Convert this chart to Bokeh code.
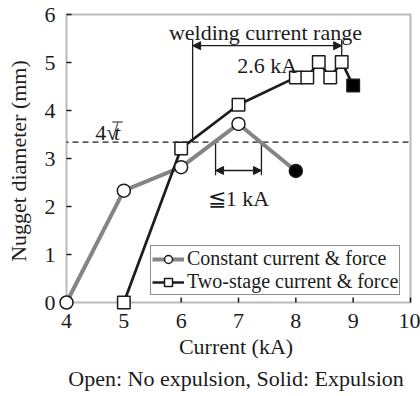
from bokeh.plotting import figure
from bokeh.models import (ColumnDataSource, Range1d, FixedTicker, Label, Arrow,
                          NormalHead, Legend, LegendItem, BoxAnnotation, Title)
from bokeh.embed import file_html
from bokeh.resources import INLINE
import math

# Nugget diameter versus welding current
const_current = [4, 5, 6, 7, 8]
const_diameter = [0.0, 2.33, 2.82, 3.72, 2.74]
const_expulsion = [False, False, False, False, True]

two_stage_current = [5, 6, 7, 8, 8.2, 8.4, 8.6, 8.8, 9]
two_stage_diameter = [0.0, 3.21, 4.12, 4.69, 4.69, 5.01, 4.69, 5.01, 4.52]
two_stage_expulsion = [False, False, False, False, False, False, False, False, True]

x_ticks = [4, 5, 6, 7, 8, 9, 10]
y_ticks = [0, 1, 2, 3, 4, 5, 6]

min_diameter = 3.34          # 4*sqrt(t) criterion
wide_range = [6.2, 8.8]      # two-stage welding current range (2.6 kA)
narrow_range = [6.6, 7.4]    # constant current range (<= 1 kA)

FONT = "Liberation Serif"
INK = "#1c1c1c"
GRAY = "#858585"

# the frame is a little larger than the data box so corner markers stay whole
PX_X = 57.33   # pixels per kA
PX_Y = 48.0    # pixels per mm
x0, x1 = x_ticks[0], x_ticks[-1]
y0, y1 = y_ticks[0], y_ticks[-1]

p = figure(width=420, height=396,
           x_range=Range1d(x0 - 8 / PX_X, x1 + 3 / PX_X),
           y_range=Range1d(y0 - 8 / PX_Y, y1 + 3 / PX_Y),
           output_backend="svg", toolbar_location=None,
           min_border_left=58, min_border_right=7,
           min_border_top=11, min_border_bottom=86)
p.outline_line_color = None
p.grid.visible = False

xa = p.xaxis[0]
ya = p.yaxis[0]
xa.ticker = FixedTicker(ticks=x_ticks)
ya.ticker = FixedTicker(ticks=y_ticks)
xa.axis_label = "Current (kA)"
ya.axis_label = "Nugget diameter (mm)"
for ax in (xa, ya):
    ax.axis_line_color = None
    ax.major_tick_line_color = None
    ax.minor_tick_line_color = None
    ax.major_tick_in = 0
    ax.major_tick_out = 0
    ax.minor_tick_in = 0
    ax.minor_tick_out = 0
    ax.major_label_text_font = FONT
    ax.major_label_text_font_size = "22px"
    ax.major_label_text_color = INK
    ax.axis_label_text_font = FONT
    ax.axis_label_text_font_size = "22px"
    ax.axis_label_text_font_style = "normal"
    ax.axis_label_text_color = INK
xa.major_label_standoff = 3
ya.major_label_standoff = 3
xa.axis_label_standoff = 3
ya.axis_label_standoff = 11

# data box and inward ticks
p.add_layout(BoxAnnotation(left=x0, right=x1, bottom=y0, top=y1, fill_alpha=0,
                           line_color=INK, line_width=2, level="underlay"))
p.ray(x=x_ticks, y=[y0] * len(x_ticks), length=5, length_units="screen",
      angle=math.pi / 2, line_color=INK, line_width=1.5)
p.ray(x=[x0] * len(y_ticks), y=y_ticks, length=5, length_units="screen",
      angle=0, line_color=INK, line_width=1.5)

# 4*sqrt(t) criterion
p.segment(x0=[x0], x1=[x1], y0=[min_diameter], y1=[min_diameter],
          line_color=INK, line_width=1.3, line_dash="6 4", line_dash_offset=4)

# range markers
range_top = 5.48
range_arrow_y = 5.35
p.segment(x0=wide_range, x1=wide_range,
          y0=[min_diameter, two_stage_diameter[7]], y1=[range_top, range_top],
          line_color=INK, line_width=1.3)
narrow_bottom = 2.65
narrow_arrow_y = 2.75
p.segment(x0=narrow_range, x1=narrow_range,
          y0=[min_diameter, min_diameter], y1=[narrow_bottom, narrow_bottom],
          line_color=INK, line_width=1.3)

for (xs, yv) in ((wide_range, range_arrow_y), (narrow_range, narrow_arrow_y)):
    p.add_layout(Arrow(start=NormalHead(size=8, fill_color=INK, line_color=INK, line_width=1),
                       end=NormalHead(size=8, fill_color=INK, line_color=INK, line_width=1),
                       x_start=xs[0], y_start=yv, x_end=xs[1], y_end=yv,
                       line_color=INK, line_width=1.3))

# series
const_src = ColumnDataSource(dict(
    x=const_current, y=const_diameter,
    fill=["black" if e else "white" for e in const_expulsion]))
two_src = ColumnDataSource(dict(
    x=two_stage_current, y=two_stage_diameter,
    fill=["black" if e else "white" for e in two_stage_expulsion]))

const_line = p.line("x", "y", source=const_src, line_color=GRAY, line_width=4)
two_line = p.line("x", "y", source=two_src, line_color=INK, line_width=2.7)
const_pts = p.scatter("x", "y", source=const_src, marker="circle", size=13,
                      fill_color="fill", line_color=INK, line_width=1.5)
two_pts = p.scatter("x", "y", source=two_src, marker="square", size=12.5,
                    fill_color="fill", line_color=INK, line_width=1.5)

# texts
def note(x, y, text, align="center", style="normal", size="22px"):
    p.add_layout(Label(x=x, y=y, text=text, text_align=align, text_baseline="alphabetic",
                       text_font=FONT, text_font_size=size, text_font_style=style,
                       text_color=INK))

note(7.47, 5.63, "welding current range")
note(7.5, 4.94, "2.6 kA")
note(7.0, 2.17, "\u22661 kA")
note(4.5, 3.55, "4\u221a", align="left")
note(4.83, 3.55, "t", align="left", style="italic")
p.segment(x0=[4.80], x1=[4.98], y0=[3.76], y1=[3.76], line_color=INK, line_width=1.2)

p.add_layout(Title(text="Open: No expulsion, Solid: Expulsion", align="center",
                   text_font=FONT, text_font_size="22px", text_font_style="normal",
                   text_color=INK, offset=2, standoff=4), "below")

legend = Legend(items=[LegendItem(label="Constant current & force", renderers=[const_line, const_pts]),
                       LegendItem(label="Two-stage current & force", renderers=[two_line, two_pts])],
                location=(92, 15), orientation="vertical",
                label_text_font=FONT, label_text_font_size="20px", label_text_color=INK,
                glyph_width=32, glyph_height=20, label_height=20, label_standoff=3,
                padding=1, spacing=0, margin=0,
                border_line_color=INK, border_line_width=1.5,
                background_fill_color="white", background_fill_alpha=1)
p.add_layout(legend)

open("out.html", "w").write(file_html(p, INLINE))
